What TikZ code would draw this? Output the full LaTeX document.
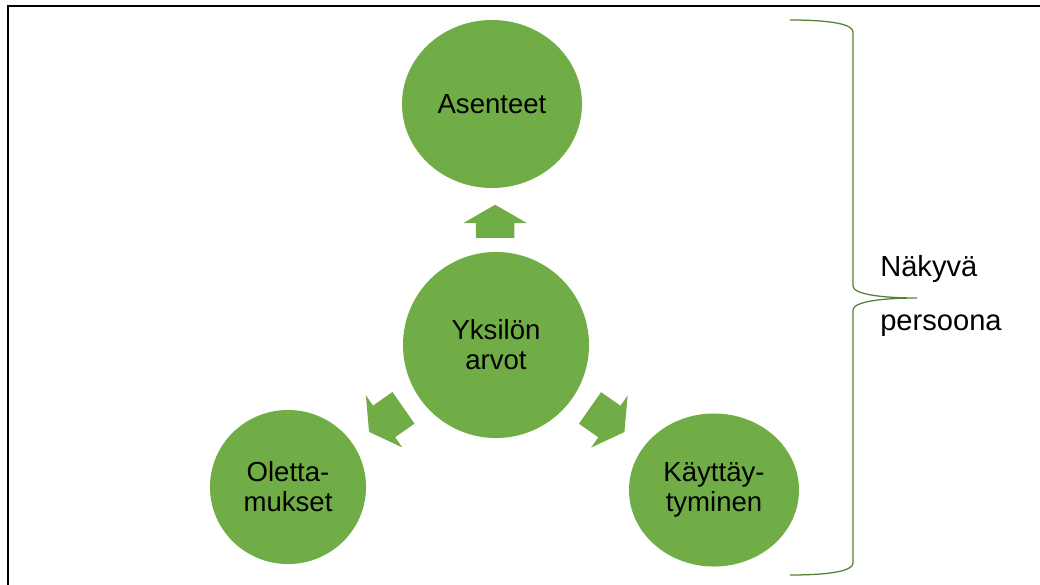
\documentclass[tikz,border=0pt]{standalone}
\usepackage{fontspec}
\setmainfont{Liberation Sans}
\usetikzlibrary{shapes,arrows}
\usetikzlibrary{positioning,calc}
\definecolor{leafgreen}{HTML}{70AD47}
\definecolor{bracegreen}{HTML}{548235}

\begin{document}
\begin{tikzpicture}[x=0.025cm, y=-0.025cm]
% Define block styles
\tikzstyle{value} = [ellipse, fill=leafgreen, inner sep=0pt, align=center,
    font=\fontsize{19.6}{21.5}\selectfont]
\tikzstyle{flow} = [single arrow, fill=leafgreen, inner xsep=0pt, inner ysep=0.475cm,
    outer sep=0pt, single arrow head extend=0.3125cm, single arrow head indent=0pt,
    single arrow tip angle=120, anchor=tail]
\tikzstyle{frame} = [draw, line width=1.2pt]
\tikzstyle{curly} = [draw=bracegreen, line width=0.9pt]
\tikzstyle{caption} = [align=left, inner sep=0pt, font=\fontsize{20.7}{38.4}\selectfont]

    \useasboundingbox (0,0) rectangle (1040,585);
    \clip (0,0) rectangle (1040,585);
    \draw [frame] (8,6) rectangle (1080,620);

    % Place nodes
    \node [value, minimum width=4.65cm, minimum height=4.65cm] (arvot) at (496,345) {Yksilön\\arvot};
    \node [value, minimum width=4.5cm, minimum height=4.2cm] (asenteet) at (492,104) {Asenteet};
    \node [value, minimum width=3.9cm, minimum height=3.85cm] (oletukset) at (288,487) {Oletta-\\mukset};
    \node [value, minimum width=4.25cm, minimum height=3.825cm] (kaytos) at (714,490) {Käyttäy-\\tyminen};

    % Draw edges
    \node [flow, minimum height=0.825cm, rotate=90] (upflow) at ($(arvot.north)!0.22!(asenteet.south)$) {};
    \node [flow, minimum height=1.05cm, rotate=215] (leftflow) at ($(arvot.214)!0.23!(oletukset.34)$) {};
    \node [flow, minimum height=1.05cm, rotate=-35] (rightflow) at ($(arvot.-34)!0.23!(kaytos.146)$) {};

    % Brace and label
    \coordinate (tip) at (917,298);
    \draw [curly] (790,20) .. controls (830,20) and (853,24) .. (853,32) -- (853,286)
        .. controls (853,294) and (880,298) .. (tip)
        .. controls (880,298) and (853,302) .. (853,310) -- (853,563)
        .. controls (853,571) and (830,575) .. (790,575);
    \node [caption, anchor=west] (persona) at (880,296) {Näkyvä\\persoona};
\end{tikzpicture}
\end{document}
